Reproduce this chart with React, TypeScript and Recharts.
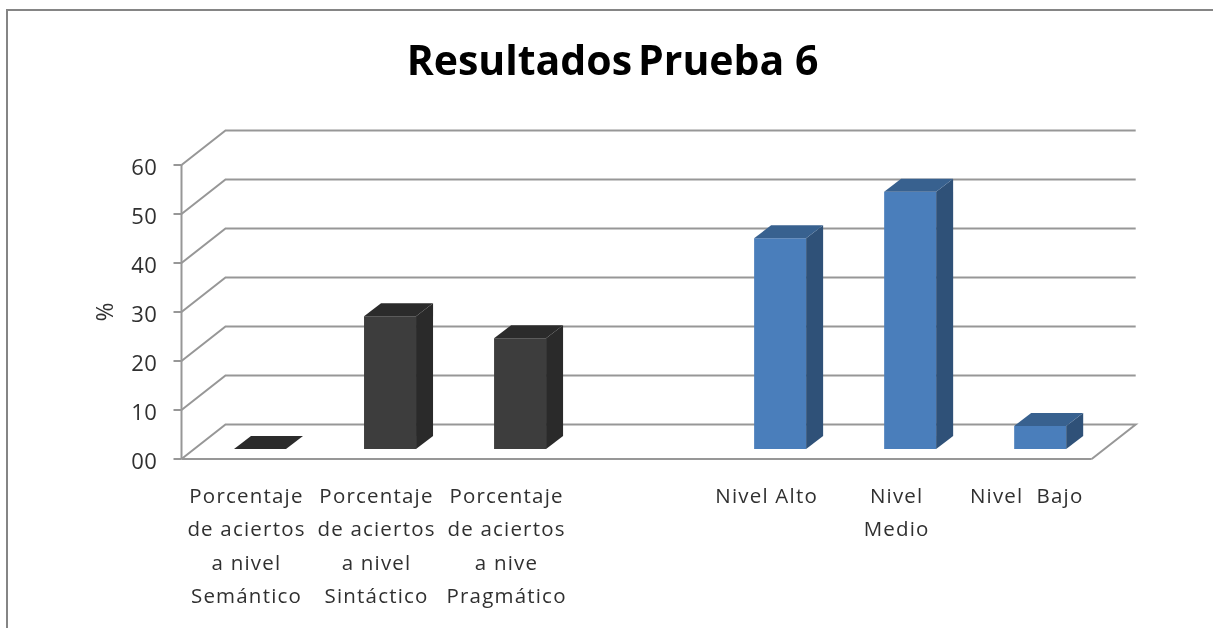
import React from "react";
import { BarChart, Bar, XAxis, YAxis, CartesianGrid, Label } from "recharts";

const titleParts = ["Resultados", "Prueba 6"];
const yTitle = "%";
const categories = [
  "Porcentaje\nde aciertos\na nivel\nSemántico",
  "Porcentaje\nde aciertos\na nivel\nSintáctico",
  "Porcentaje\nde aciertos\na nive\nPragmático",
  " ",
  "Nivel Alto",
  "Nivel\nMedio",
  "Nivel  Bajo",
];
const values: (number | null)[] = [0, 27.1, 22.6, null, 43, 52.5, 4.7];
const groups = ["dark", "dark", "dark", "", "blue", "blue", "blue"];
const yTicks = [0, 10, 20, 30, 40, 50, 60];

const palette: Record<string, { front: string; side: string; top: string }> = {
  dark: { front: "#3d3d3d", side: "#2a2a2a", top: "#2b2b2b" },
  blue: { front: "#4a7ebb", side: "#2f5178", top: "#38618f" },
};

const data = categories.map((name, i) => ({ name, value: values[i], group: groups[i] }));

const FONT = "'Open Sans', 'Noto Sans', sans-serif";
const GRID = "#979797";
const WALL_X = 44;
const WALL_Y = 34.5;
const BAR_DX = 13.5;
const BAR_DY = -10;
const BAR_DEPTH_X = 17;
const BAR_DEPTH_Y = 13;

function GridLine3D(props: any) {
  const { x1, y1, x2, index } = props;
  const yBack = y1 - WALL_Y;
  const isFloor = Math.abs(y1 - 459) < 1;
  const d = `M${x1},${y1}L${x1 + WALL_X},${yBack}L${x2 + WALL_X},${yBack}` + (isFloor ? `L${x2},${y1}` : "");
  return <path key={index} d={d} fill="none" stroke={GRID} strokeWidth={2} />;
}

function Bar3D(props: any) {
  const { x, y, width, height, payload } = props;
  if (payload == null || payload.value == null) return null;
  const c = palette[payload.group];
  const l = x + BAR_DX;
  const r = l + width;
  const t = y + BAR_DY;
  const b = t + height;
  const dx = BAR_DEPTH_X;
  const dy = BAR_DEPTH_Y;
  return (
    <g>
      <polygon points={`${l},${t} ${r},${t} ${r},${b} ${l},${b}`} fill={c.front} />
      <polygon points={`${r},${t} ${r + dx},${t - dy} ${r + dx},${b - dy} ${r},${b}`} fill={c.side} />
      <polygon points={`${l},${t} ${l + dx},${t - dy} ${r + dx},${t - dy} ${r},${t}`} fill={c.top} />
    </g>
  );
}

function CategoryTick(props: any) {
  const { x, y, payload } = props;
  const lines = String(payload.value).split("\n");
  return (
    <text x={x} y={y} textAnchor="middle" fontFamily={FONT} fontSize={20.5} fill="#303030" letterSpacing={1.2}>
      {lines.map((line, i) => (
        <tspan key={i} x={x} y={y + 36 + i * 33.4} xmlSpace="preserve">
          {line}
        </tspan>
      ))}
    </text>
  );
}

export default function App() {
  return (
    <div
      style={{
        position: "absolute",
        left: 0,
        top: 0,
        width: 1213,
        height: 628,
        overflow: "hidden",
        background: "#fff",
      }}
    >
      <div style={{ filter: "blur(0.7px)", width: 1213, height: 628, position: "relative" }}>
        <div
          style={{
            position: "absolute",
            left: 6,
            top: 8.5,
            width: 1213,
            height: 640,
            borderLeft: "2px solid #858585",
            borderTop: "2px solid #858585",
          }}
        />
        <div style={{ position: "absolute", left: 0, top: 0 }}>
          <BarChart
            width={1213}
            height={628}
            data={data}
            margin={{ top: 165, right: 121.3, bottom: 0, left: 0 }}
            barCategoryGap="30%"
          >
            <text
              x={612.5}
              y={75}
              textAnchor="middle"
              fontFamily={FONT}
              fontWeight={700}
              fontSize={41}
              fill="#000"
            >
              <tspan>{titleParts[0]}</tspan>
              <tspan dx={6}>{titleParts[1]}</tspan>
            </text>
            <CartesianGrid
              vertical={false}
              horizontal={(p: any) => <GridLine3D {...p} />}
            />
            <XAxis
              dataKey="name"
              height={169}
              interval={0}
              tickLine={false}
              axisLine={{ stroke: GRID, strokeWidth: 2 }}
              tick={<CategoryTick />}
            />
            <YAxis
              width={181.5}
              domain={[0, 60]}
              ticks={yTicks}
              interval={0}
              tickSize={8}
              tickMargin={16}
              axisLine={{ stroke: GRID, strokeWidth: 2 }}
              tickLine={{ stroke: GRID, strokeWidth: 2 }}
              tick={{ fontFamily: FONT, fontSize: 22, fill: "#303030", letterSpacing: 0.6, dy: 2 }}
              tickFormatter={(v: number) => String(v).padStart(2, "0")}
            >
              <Label
                value={yTitle}
                angle={-90}
                position="insideLeft"
                offset={105}
                style={{ fontFamily: FONT, fontSize: 23, fill: "#303030", textAnchor: "middle" }}
              />
            </YAxis>
            <Bar dataKey="value" isAnimationActive={false} shape={<Bar3D />} />
          </BarChart>
        </div>
      </div>
    </div>
  );
}
